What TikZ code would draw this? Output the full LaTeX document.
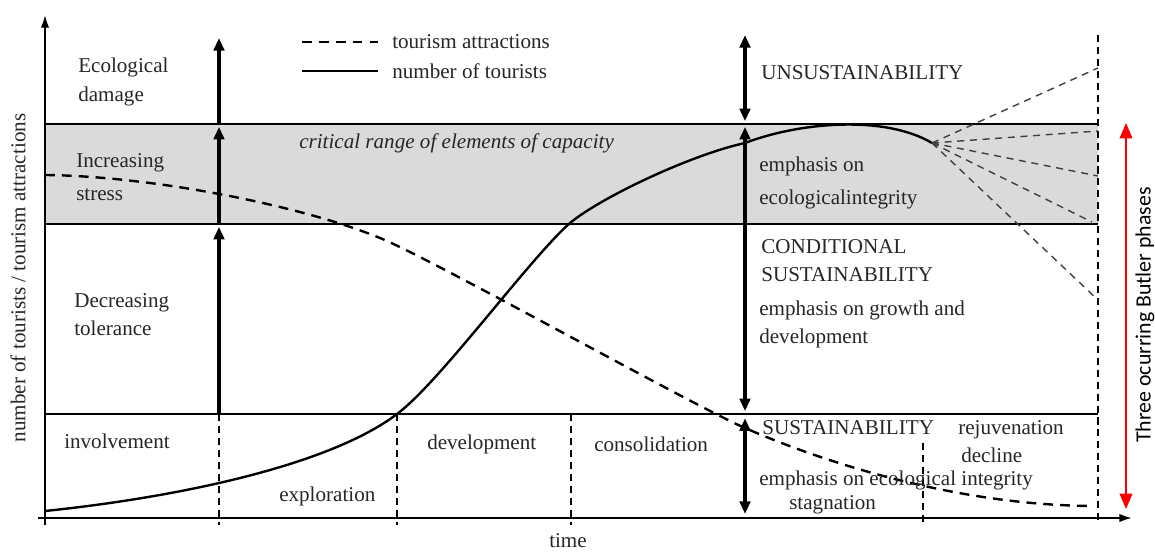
\documentclass[tikz,border=0pt]{standalone}
\usepackage{fontspec}
\setmainfont{Liberation Serif}
\newfontfamily\phasefont{Carlito}
\usetikzlibrary{arrows.meta, positioning}
\definecolor{bandgray}{HTML}{DADADA}
\definecolor{inkgray}{HTML}{262626}
\tikzset{
	axisline/.style={line width=1.4pt, -{Latex[length=9pt,width=6pt]}},
	levelline/.style={line width=1.3pt},
	phasesep/.style={line width=1.3pt, dash pattern=on 5pt off 3.5pt},
	bigarrow/.style={line width=2.8pt, -{Triangle[length=9pt,width=7.5pt]}},
	bigdouble/.style={line width=2.8pt, {Triangle[length=9pt,width=7.5pt]}-{Triangle[length=9pt,width=7.5pt]}},
	tourists/.style={line width=1.7pt},
	attractions/.style={line width=1.7pt, dash pattern=on 7pt off 5pt},
	futurepath/.style={line width=1pt, dash pattern=on 5pt off 4pt, black!75}
}
\tikzset{
	lbl/.style={font=\fontsize{15}{20}\selectfont, text=inkgray, inner sep=0pt, align=left, anchor=west}
}

\begin{document}
\begin{tikzpicture}[x=0.025cm, y=-0.025cm]

	\useasboundingbox (0,0) rectangle (1155,552);

	% axes and levels
	\begin{scope}
		\coordinate (o) at (45,518);
		\coordinate (ytop) at (45,15);
		\coordinate (xstart) at (38,518);
		\coordinate (xend) at (1132,518);
		\coordinate (bandA) at (45,124);
		\coordinate (bandB) at (1098,224);

		\fill[bandgray] (bandA) rectangle (bandB);
		\draw[levelline] (45,124) -- (1098,124);
		\draw[levelline] (45,224) -- (1098,224);
		\draw[levelline] (45,414) -- (1098,414);

		\draw[axisline] (45,525) -- (ytop);
		\draw[axisline] (xstart) -- (xend);
	\end{scope}

	% phase separators
	\begin{scope}
		\coordinate (sA) at (219,414);
		\coordinate (sB) at (397,414);
		\coordinate (sC) at (571,414);
		\coordinate (sD) at (923,443);
		\coordinate (sE) at (1098,35);

		\draw[phasesep] (sA) -- (219,525);
		\draw[phasesep] (sB) -- (397,525);
		\draw[phasesep] (sC) -- (571,525);
		\draw[phasesep] (sD) -- (923,525);
		\draw[phasesep] (sE) -- (1098,525);
	\end{scope}

	% curves
	\coordinate (fan) at (932,143);
	\draw[tourists] (45,511)
		.. controls (180,497) and (330,465) .. (397,414)
		.. controls (440,382) and (530,258) .. (570,223)
		.. controls (600,198) and (690,155) .. (745,143)
		.. controls (800,122) and (885,115) .. (fan);
	\draw[futurepath] (fan) -- (1098,68);
	\draw[futurepath] (fan) -- (1098,131);
	\draw[futurepath] (fan) -- (1098,176);
	\draw[futurepath] (fan) -- (1092,222);
	\draw[futurepath] (fan) -- (1098,300);

	\draw[attractions] (45,175)
		.. controls (150,176) and (300,205) .. (380,238)
		.. controls (430,258) and (690,404) .. (745,428)
		.. controls (830,465) and (960,505) .. (1092,506);

	% capacity arrows
	\begin{scope}
		\coordinate (lA) at (219,414);
		\coordinate (lB) at (219,224);
		\coordinate (lC) at (219,124);
		\coordinate (lD) at (219,38);
		\draw[bigarrow] (lA) -- ([yshift=-2pt]lB);
		\draw[bigarrow] (lB) -- ([yshift=-2pt]lC);
		\draw[bigarrow] (lC) -- (lD);

		\coordinate (rA) at (745,35);
		\coordinate (rB) at (745,124);
		\coordinate (rC) at (745,414);
		\coordinate (rD) at (745,514);
		\draw[bigdouble] (rA) -- ([yshift=2pt]rB);
		\draw[bigdouble] ([yshift=-2pt]rB) -- ([yshift=2pt]rC);
		\draw[bigdouble] ([yshift=-3pt]rC) -- (rD);
	\end{scope}

	\coordinate (redA) at (1126,123);
	\coordinate (redB) at (1126,509);
	\draw[red, line width=1.6pt, {Triangle[length=11pt,width=9pt]}-{Triangle[length=11pt,width=9pt]}] (redA) -- (redB);

	% legend
	\node[lbl] (legdash) at (392,42) {tourism attractions};
	\node[lbl] (legsolid) at (392,71) {number of tourists};
	\draw[attractions] (302,42) -- (378,42);
	\draw[tourists] (302,71) -- (378,71);

	% left column
	\node[lbl] (ecodamage) at (78,82) {Ecological\\damage};
	\node[lbl] (incstress) at (76,177) {Increasing\\[4pt]stress};
	\node[lbl] (dectol) at (74,315) {Decreasing\\tolerance};
	\node[lbl, font=\fontsize{15}{20}\selectfont\itshape] (critical) at (299,143) {critical range of elements of capacity};

	% right column
	\node[lbl] (unsust) at (761,73) {UNSUSTAINABILITY};
	\node[lbl] (emphint) at (759,183) {emphasis on\\[4pt]ecologicalintegrity};
	\node[lbl] (condsust) at (761,261) {CONDITIONAL\\SUSTAINABILITY};
	\node[lbl] (emphgrowth) at (759,324) {emphasis on growth and\\development};
	\node[lbl] (sust) at (762,428) {SUSTAINABILITY};
	\node[lbl] (emphecol) at (759,480) {emphasis on ecological integrity};
	\node[lbl] (stag) at (789,505) {stagnation};
	\node[lbl] (rejuv) at (958,430) {rejuvenation};
	\node[lbl] (decline) at (961,455) {decline};

	% stages
	\node[lbl] (involve) at (64,441) {involvement};
	\node[lbl] (explor) at (279,496) {exploration};
	\node[lbl] (develop) at (427,444) {development};
	\node[lbl] (consol) at (594,444) {consolidation};

	\node[lbl, anchor=center] (time) at (568,541) {time};
	\node[lbl, anchor=center, rotate=90] (ylabel) at (18,278) {number of tourists / tourism attractions};
	\node[lbl, anchor=center, rotate=90, font=\phasefont\fontsize{15.5}{18}\selectfont, text=black] (phases) at (1145,315) {Three ocurring Butler phases};

\end{tikzpicture}
\end{document}
